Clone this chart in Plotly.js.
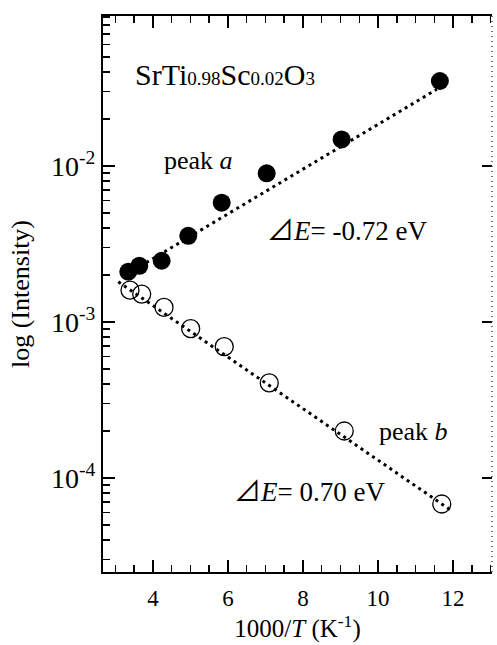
<!DOCTYPE html>
<html>
<head>
<meta charset="utf-8">
<script src="https://cdn.plot.ly/plotly-3.0.1.min.js"></script>
<style>
html,body{margin:0;padding:0;background:#fff;}
#chart{width:497px;height:645px;}
</style>
</head>
<body>
<div id="chart"></div>
<script>
// ---- data ----
var peakA_x = [3.34, 3.635, 4.232, 4.94, 5.832, 7.032, 9.03, 11.65];
var peakA_y = [2.10e-3, 2.29e-3, 2.47e-3, 3.57e-3, 5.82e-3, 8.98e-3, 1.48e-2, 3.51e-2];
var peakB_x = [3.387, 3.699, 4.294, 5.005, 5.90, 7.10, 9.10, 11.70];
var peakB_y = [1.60e-3, 1.51e-3, 1.24e-3, 9.06e-4, 6.95e-4, 4.07e-4, 2.00e-4, 6.81e-5];
var fitA_x = [3.34, 11.565];
var fitA_y = [2.05e-3, 3.10e-2];
var fitB_x = [3.075, 11.965];
var fitB_y = [1.81e-3, 6.16e-5];
var yTickVals = [1e-4, 1e-3, 1e-2];
var yTickText = ['10<sup>-4</sup>', '10<sup>-3</sup>', '10<sup>-2</sup>'];
var xTickVals = [4, 6, 8, 10, 12];

var yMinor = [];
[1e-5, 1e-4, 1e-3, 1e-2].forEach(function (d) {
  for (var m = 2; m <= 9; m++) yMinor.push(m * d);
});

var serif = 'Liberation Serif, Times New Roman, serif';
var dotted = '3px,4px';
var tri = '<span style="font-family:\'Noto Sans CJK JP\'">⊿</span>';

var traces = [
  {x: peakB_x, y: peakB_y, mode: 'markers', type: 'scatter',
   marker: {symbol: 'circle-open', size: 18, color: '#000', line: {width: 1.3, color: '#000'}},
   showlegend: false, hoverinfo: 'skip'},
  {x: fitA_x, y: fitA_y, mode: 'lines', type: 'scatter',
   line: {color: '#000', width: 3, dash: dotted}, showlegend: false, hoverinfo: 'skip'},
  {x: fitB_x, y: fitB_y, mode: 'lines', type: 'scatter',
   line: {color: '#000', width: 3, dash: dotted}, showlegend: false, hoverinfo: 'skip'},
  {x: peakA_x, y: peakA_y, mode: 'markers', type: 'scatter',
   marker: {symbol: 'circle', size: 18, color: '#000'},
   showlegend: false, hoverinfo: 'skip'},
  {x: [peakA_x[0]], y: [peakA_y[0]], yaxis: 'y2', mode: 'markers', type: 'scatter',
   marker: {opacity: 0}, showlegend: false, hoverinfo: 'skip'}
];

var layout = {
  width: 497, height: 645,
  margin: {l: 103, r: 5, t: 16, b: 73},
  paper_bgcolor: '#fff', plot_bgcolor: '#fff',
  font: {family: serif, color: '#000'},
  xaxis: {
    range: [2.667, 13.04], showgrid: false, zeroline: false,
    showline: true, linewidth: 2, linecolor: '#000', mirror: 'ticks',
    ticks: 'inside', ticklen: 12, tickwidth: 1.5, tickcolor: '#000',
    tickvals: xTickVals, tickfont: {family: serif, size: 23}, ticklabelstandoff: 4,
    minor: {ticks: 'inside', ticklen: 7, tickwidth: 1.5, tickcolor: '#000', dtick: 0.5, tick0: 0},
    title: {text: '1000/<i>T</i> (K<sup>-1</sup>)', font: {family: serif, size: 25}, standoff: 0}
  },
  yaxis: {
    type: 'log', range: [-4.603, -1.038], showgrid: false, zeroline: false,
    showline: true, linewidth: 2, linecolor: '#000', mirror: false,
    ticks: 'inside', ticklen: 12, tickwidth: 1.5, tickcolor: '#000',
    tickvals: yTickVals, ticktext: yTickText, tickfont: {family: serif, size: 28},
    minor: {ticks: 'inside', ticklen: 7, tickwidth: 1.5, tickcolor: '#000', tickvals: yMinor},
    title: {text: 'log (Intensity)', font: {family: serif, size: 26}, standoff: 14}
  },
  yaxis2: {
    type: 'log', range: [-4.603, -1.038], overlaying: 'y', side: 'right',
    showgrid: false, zeroline: false, showline: false,
    ticks: 'inside', ticklen: 10, tickwidth: 1.5, tickcolor: '#000',
    tickvals: yTickVals, showticklabels: false
  },
  shapes: [
    {type: 'line', xref: 'paper', yref: 'paper', x0: 1, x1: 1, y0: 0, y1: 1,
     line: {color: '#444', width: 1.5, dash: '1px,4px'}}
  ],
  annotations: [
    {xref: 'paper', yref: 'paper', x: 0.077, y: 0.894, xanchor: 'left', yanchor: 'middle', showarrow: false,
     text: 'SrTi<span style="font-size:19px">0.98</span>Sc<span style="font-size:19px">0.02</span>O<span style="font-size:19px">3</span>',
     font: {family: serif, size: 30}},
    {xref: 'paper', yref: 'paper', x: 0.151, y: 0.741, xanchor: 'left', yanchor: 'middle', showarrow: false,
     text: 'peak <i>a</i>', font: {family: serif, size: 26}},
    {xref: 'paper', yref: 'paper', x: 0.416, y: 0.617, xanchor: 'left', yanchor: 'middle', showarrow: false,
     text: tri + '<i>E</i>= -0.72 eV', font: {family: serif, size: 27}},
    {xref: 'paper', yref: 'paper', x: 0.705, y: 0.252, xanchor: 'left', yanchor: 'middle', showarrow: false,
     text: 'peak <i>b</i>', font: {family: serif, size: 26}},
    {xref: 'paper', yref: 'paper', x: 0.332, y: 0.148, xanchor: 'left', yanchor: 'middle', showarrow: false,
     text: tri + '<i>E</i>= 0.70 eV', font: {family: serif, size: 27}}
  ]
};

Plotly.newPlot('chart', traces, layout, {staticPlot: true, displayModeBar: false});
</script>
</body>
</html>
